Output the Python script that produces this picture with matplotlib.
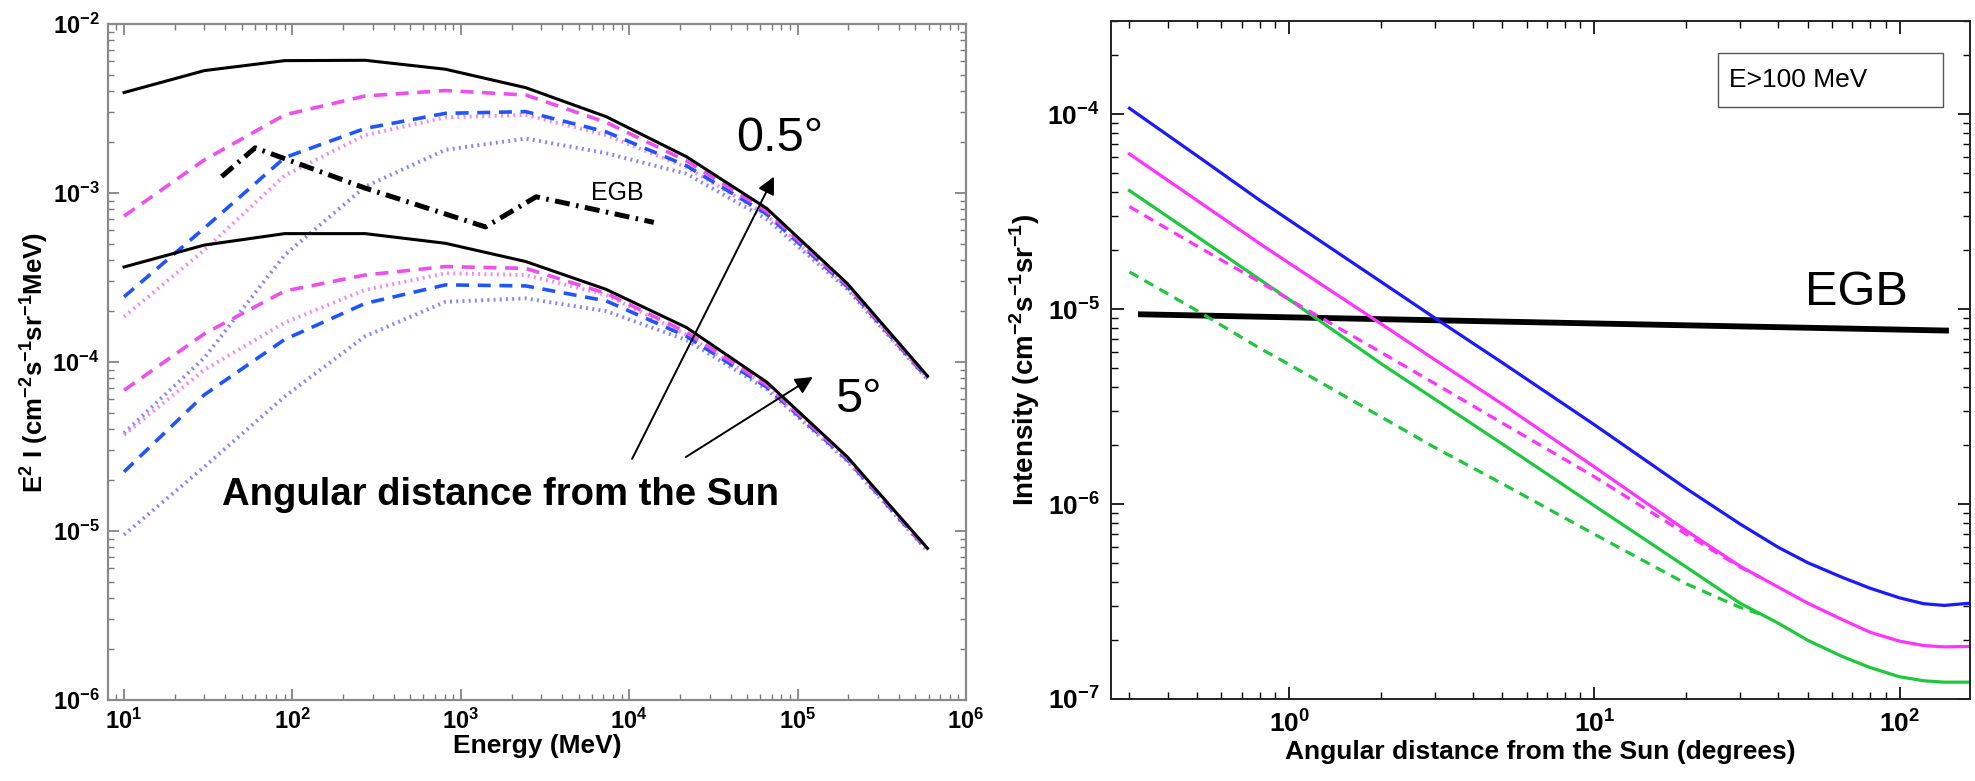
import matplotlib
matplotlib.use('Agg')
import matplotlib.pyplot as plt
from matplotlib.patches import Rectangle
from matplotlib.ticker import LogLocator, NullFormatter

plt.rcParams['font.family'] = ['Liberation Sans', 'DejaVu Sans']
plt.rcParams['font.weight'] = 'bold'
plt.rcParams['axes.labelweight'] = 'bold'

# ---- left panel: spectra at 0.5 deg (upper group) and 5 deg (lower group)
energy = [10, 30, 90, 270, 810, 2430, 7290, 21870, 65610, 196830, 590490]

total_05 = [3.93e-3, 5.30e-3, 6.07e-3, 6.10e-3, 5.40e-3, 4.20e-3, 2.83e-3, 1.64e-3, 8.10e-4, 2.92e-4, 8.26e-5]
mag_dash_05 = [7.3e-4, 1.57e-3, 2.90e-3, 3.75e-3, 4.04e-3, 3.80e-3, 2.62e-3, 1.55e-3, 7.8e-4, 2.85e-4, 8.1e-5]
blue_dash_05 = [2.43e-4, 6.2e-4, 1.62e-3, 2.41e-3, 2.96e-3, 3.03e-3, 2.30e-3, 1.45e-3, 7.5e-4, 2.80e-4, 8.0e-5]
mag_dot_05 = [1.85e-4, 4.6e-4, 1.27e-3, 2.20e-3, 2.80e-3, 2.90e-3, 2.20e-3, 1.42e-3, 7.4e-4, 2.78e-4, 8.0e-5]
blue_dot_05 = [3.8e-5, 1.06e-4, 4.3e-4, 1.09e-3, 1.80e-3, 2.10e-3, 1.72e-3, 1.30e-3, 7.0e-4, 2.70e-4, 7.9e-5]

total_5 = [3.65e-4, 4.92e-4, 5.75e-4, 5.75e-4, 5.04e-4, 3.93e-4, 2.69e-4, 1.60e-4, 7.6e-5, 2.75e-5, 7.9e-6]
mag_dash_5 = [6.8e-5, 1.47e-4, 2.63e-4, 3.27e-4, 3.67e-4, 3.58e-4, 2.55e-4, 1.50e-4, 7.3e-5, 2.70e-5, 7.8e-6]
blue_dash_5 = [2.24e-5, 6.4e-5, 1.36e-4, 2.22e-4, 2.86e-4, 2.82e-4, 2.30e-4, 1.42e-4, 7.1e-5, 2.65e-5, 7.7e-6]
mag_dot_5 = [3.7e-5, 9.0e-5, 1.71e-4, 2.67e-4, 3.35e-4, 3.27e-4, 2.50e-4, 1.45e-4, 7.2e-5, 2.65e-5, 7.7e-6]
blue_dot_5 = [9.5e-6, 2.4e-5, 6.25e-5, 1.42e-4, 2.27e-4, 2.38e-4, 2.00e-4, 1.35e-4, 6.9e-5, 2.60e-5, 7.6e-6]

egb_energy = [38, 60, 270, 1400, 2800, 14000]
egb_flux = [1.25e-3, 1.85e-3, 1.07e-3, 6.3e-4, 9.5e-4, 6.7e-4]

# ---- right panel: intensity above 100 MeV vs angle
theta = [0.3, 0.5, 0.8, 1, 2, 3, 5, 10, 20, 30, 40, 50, 65, 80, 100, 120, 140, 170]
blue_int = [1.07e-4, 6.1e-5, 3.62e-5, 2.86e-5, 1.38e-5, 9.0e-6, 5.3e-6, 2.55e-6, 1.2e-6,
            7.9e-7, 6.0e-7, 5.0e-7, 4.2e-7, 3.7e-7, 3.3e-7, 3.08e-7, 3.02e-7, 3.1e-7]
mag_int = [6.24e-5, 3.6e-5, 2.17e-5, 1.72e-5, 8.4e-6, 5.5e-6, 3.25e-6, 1.55e-6, 7.3e-7,
           4.8e-7, 3.75e-7, 3.1e-7, 2.55e-7, 2.2e-7, 1.98e-7, 1.88e-7, 1.85e-7, 1.86e-7]
green_int = [4.05e-5, 2.35e-5, 1.42e-5, 1.12e-5, 5.25e-6, 3.45e-6, 2.03e-6, 9.8e-7, 4.75e-7,
             3.1e-7, 2.45e-7, 2.0e-7, 1.65e-7, 1.45e-7, 1.3e-7, 1.24e-7, 1.22e-7, 1.22e-7]

theta_d = [0.3, 0.5, 0.8, 1, 2, 3, 5, 10, 20, 30, 35]
mag_int_d = [3.35e-5, 2.1e-5, 1.38e-5, 1.12e-5, 6.0e-6, 4.15e-6, 2.6e-6, 1.38e-6, 7.0e-7, 4.75e-7, 4.2e-7]
green_int_d = [1.55e-5, 9.8e-6, 6.3e-6, 5.2e-6, 2.8e-6, 1.95e-6, 1.27e-6, 7.0e-7, 3.9e-7, 2.95e-7, 2.72e-7]

egb_theta = [0.32, 145]
egb_int = [9.4e-6, 7.75e-6]

MAG, BLUE = '#ee4fee', '#1f55ff'
MAG_L, BLUE_L = '#f28af2', '#8585ff'
dash = (0, (3.6, 2.4))
dot = (0, (0.5, 1.1))

fig = plt.figure(figsize=(19.75, 7.81), dpi=100)

# left axes
ax1 = fig.add_axes([108 / 1975, 1 - 700 / 781, 858 / 1975, 676 / 781])
for tot, md, bd, mo, bo in [(total_05, mag_dash_05, blue_dash_05, mag_dot_05, blue_dot_05),
                            (total_5, mag_dash_5, blue_dash_5, mag_dot_5, blue_dot_5)]:
    ax1.plot(energy, bo, color=BLUE_L, lw=2.8, ls=dot)
    ax1.plot(energy, mo, color=MAG_L, lw=2.8, ls=dot)
    ax1.plot(energy, bd, color=BLUE, lw=2.6, ls=dash)
    ax1.plot(energy, md, color=MAG, lw=2.6, ls=dash)
    ax1.plot(energy, tot, color='k', lw=2.2)
ax1.plot(egb_energy, egb_flux, color='k', lw=3.6, ls=(0, (3.0, 1.3, 0.5, 1.3)))

ax1.set_xscale('log')
ax1.set_yscale('log')
ax1.set_xlim(8.03, 1e6)
ax1.set_ylim(1e-6, 1e-2)
ax1.set_xlabel('Energy (MeV)', fontsize=19, labelpad=0)
ax1.set_ylabel(r'E$^{\mathdefault{2}}$ I (cm$^{\mathdefault{-2}}$s$^{\mathdefault{-1}}$sr$^{\mathdefault{-1}}$MeV)',
               fontsize=18.5, labelpad=2)

ax1.text(5970, 1.0e-3, 'EGB', fontsize=18, fontweight='normal', va='center', ha='left')
ax1.text(38.2, 1.63e-5, 'Angular distance from the Sun', fontsize=27.5, va='center', ha='left')
ax1.text(4.3e4, 2.09e-3, '0.5°', fontsize=35, fontweight='normal', va='center', ha='left')
ax1.text(1.67e5, 5.96e-5, '5°', fontsize=35, fontweight='normal', va='center', ha='left')
arrow = dict(arrowstyle='-|>', color='k', lw=1.4, mutation_scale=26, shrinkA=0, shrinkB=0)
ax1.annotate('', xy=(7.24e4, 1.25e-3), xytext=(1.04e4, 2.67e-5), arrowprops=arrow)
ax1.annotate('', xy=(1.23e5, 8.15e-5), xytext=(2.17e4, 2.74e-5), arrowprops=arrow)

for s in ax1.spines.values():
    s.set_color('#8a8a8a')
    s.set_linewidth(1.6)
ax1.xaxis.set_major_locator(LogLocator(base=10, numticks=20))
ax1.yaxis.set_major_locator(LogLocator(base=10, numticks=20))
ax1.tick_params(which='both', direction='in', top=True, right=True, color='#7a7a7a', labelsize=17)
ax1.tick_params(which='major', length=8, width=1.2, pad=6)
ax1.tick_params(which='minor', length=4, width=1.0)

# right axes
ax2 = fig.add_axes([1111 / 1975, 1 - 699 / 781, 859 / 1975, 678 / 781])
ax2.plot(egb_theta, egb_int, color='k', lw=4.2, solid_capstyle='butt')
ax2.plot(theta, blue_int, color='#1a1aff', lw=2.3)
ax2.plot(theta, mag_int, color='#ff33ff', lw=2.3)
ax2.plot(theta, green_int, color='#1ec83c', lw=2.3)
ax2.plot(theta_d, mag_int_d, color='#ff33ff', lw=2.3, ls=(0, (3.2, 2.2)))
ax2.plot(theta_d, green_int_d, color='#1ec83c', lw=2.3, ls=(0, (3.2, 2.2)))

ax2.set_xscale('log')
ax2.set_yscale('log')
ax2.set_xlim(0.261, 170)
ax2.set_ylim(1e-7, 3.0e-4)
ax2.set_xlabel('Angular distance from the Sun (degrees)', fontsize=19, labelpad=2)
ax2.set_ylabel(r'Intensity (cm$^{\mathdefault{-2}}$s$^{\mathdefault{-1}}$sr$^{\mathdefault{-1}}$)', fontsize=20, labelpad=4)

ax2.text(0.928, 0.600, 'EGB', transform=ax2.transAxes, fontsize=35, fontweight='normal', ha='right', va='center')
ax2.add_patch(Rectangle((0.707, 0.873), 0.262, 0.08, transform=ax2.transAxes,
                        facecolor='white', edgecolor='#555555', lw=1.0))
ax2.text(0.72, 0.913, 'E>100 MeV', transform=ax2.transAxes, fontsize=19, fontweight='normal', ha='left', va='center')

for s in ax2.spines.values():
    s.set_color('#222222')
    s.set_linewidth(1.4)
ax2.yaxis.set_major_locator(LogLocator(base=10, numticks=20))
ax2.xaxis.set_minor_formatter(NullFormatter())
ax2.tick_params(which='both', direction='in', top=True, right=True, labelsize=19)
ax2.tick_params(which='major', length=9, width=1.2, pad=8)
ax2.tick_params(which='minor', length=5, width=1.0)

fig.savefig('out.png', dpi=100)
